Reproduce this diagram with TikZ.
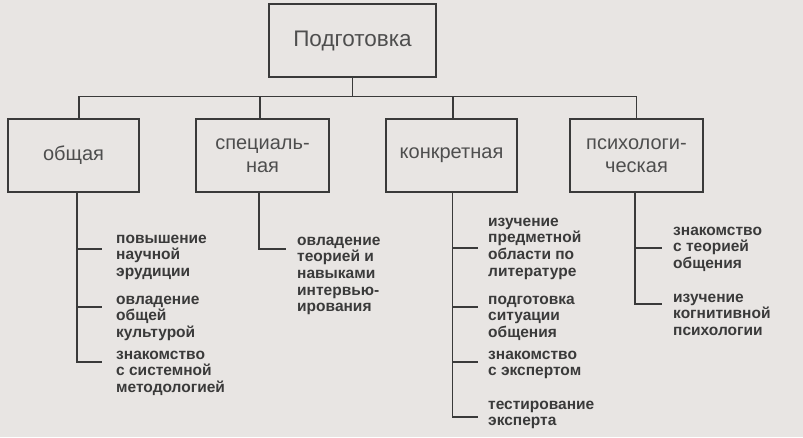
\documentclass[tikz,border=0pt]{standalone}
\usepackage{fontspec}
\setmainfont{Liberation Sans}
\definecolor{paper}{RGB}{232,229,227}
\definecolor{ink}{RGB}{58,58,58}
\begin{document}
\begin{tikzpicture}[x=1pt,y=-1pt,
  box/.style={draw=ink, line width=1.5pt, minimum height=73pt, inner sep=0pt, align=center,
    font=\fontsize{20}{23}\selectfont, text=ink!90},
  leaf/.style={anchor=north west, inner sep=0pt, align=left,
    font=\bfseries\fontsize{15.5}{16.7}\selectfont, text=ink},
  conn/.style={draw=ink, line width=1.2pt}]
\fill[paper] (0,0) rectangle (803,437);
\useasboundingbox (0,0) rectangle (803,437);
% boxes
\node[box, minimum width=167pt, font=\fontsize{22.5}{26}\selectfont] (top) at (352.5,40.5) {Подготовка};
\node[box, minimum width=131pt] (gen) at (73.5,155.5) {общая};
\node[box, minimum width=133pt] (spec) at (262.5,155.5) {специаль-\\ная};
\node[box, minimum width=131pt] (conc) at (451.5,155.5) {конкретная};
\node[box, minimum width=133pt] (psy) at (636.5,155.5) {психологи-\\ческая};
% upper connectors
\coordinate (bar) at (0,96.5);
\draw[conn] (top.south) -- (top.south |- bar);
\draw[conn] ([xshift=5.5pt]gen.north) -- ([xshift=5.5pt]gen.north |- bar) -- (psy.north |- bar) -- (psy.north);
\draw[conn] ([xshift=-2.5pt]spec.north) -- ([xshift=-2.5pt]spec.north |- bar);
\draw[conn] ([xshift=1.5pt]conc.north) -- ([xshift=1.5pt]conc.north |- bar);
% leaves
\node[leaf] (g1) at (116,231.3) {\strut повышение\\научной\\эрудиции};
\node[leaf] (g2) at (116,292.3) {\strut овладение\\общей\\культурой};
\node[leaf] (g3) at (116,347.3) {\strut знакомство\\с системной\\методологией};
\node[leaf] (s1) at (297,233.3) {\strut овладение\\теорией и\\навыками\\интервью-\\ирования};
\node[leaf] (c1) at (488,214.3) {\strut изучение\\предметной\\области по\\литературе};
\node[leaf] (c2) at (488,292.3) {\strut подготовка\\ситуации\\общения};
\node[leaf] (c3) at (488,347.3) {\strut знакомство\\с экспертом};
\node[leaf] (c4) at (488,397.3) {\strut тестирование\\эксперта};
\node[leaf] (p1) at (673,223.3) {\strut знакомство\\с теорией\\общения};
\node[leaf] (p2) at (673,290.3) {\strut изучение\\когнитивной\\психологии};
% tick ends
\coordinate (tg1) at (102,249);
\coordinate (tg2) at (102,307);
\coordinate (tg3) at (102,362);
\coordinate (ts1) at (286,249);
\coordinate (tc1) at (478,248);
\coordinate (tc2) at (478,307);
\coordinate (tc3) at (478,362);
\coordinate (tc4) at (478,417);
\coordinate (tp1) at (662,248);
\coordinate (tp2) at (662,304);
% lower connectors
\draw[conn] ([xshift=3.5pt]gen.south) |- (tg3);
\draw[conn] ([xshift=3.5pt]gen.south |- tg1) -- (tg1);
\draw[conn] ([xshift=3.5pt]gen.south |- tg2) -- (tg2);
\draw[conn] ([xshift=-3.5pt]spec.south) |- (ts1);
\draw[conn] ([xshift=1pt]conc.south) |- (tc4);
\draw[conn] ([xshift=1pt]conc.south |- tc1) -- (tc1);
\draw[conn] ([xshift=1pt]conc.south |- tc2) -- (tc2);
\draw[conn] ([xshift=1pt]conc.south |- tc3) -- (tc3);
\draw[conn] ([xshift=-1.5pt]psy.south) |- (tp2);
\draw[conn] ([xshift=-1.5pt]psy.south |- tp1) -- (tp1);
\end{tikzpicture}
\end{document}
